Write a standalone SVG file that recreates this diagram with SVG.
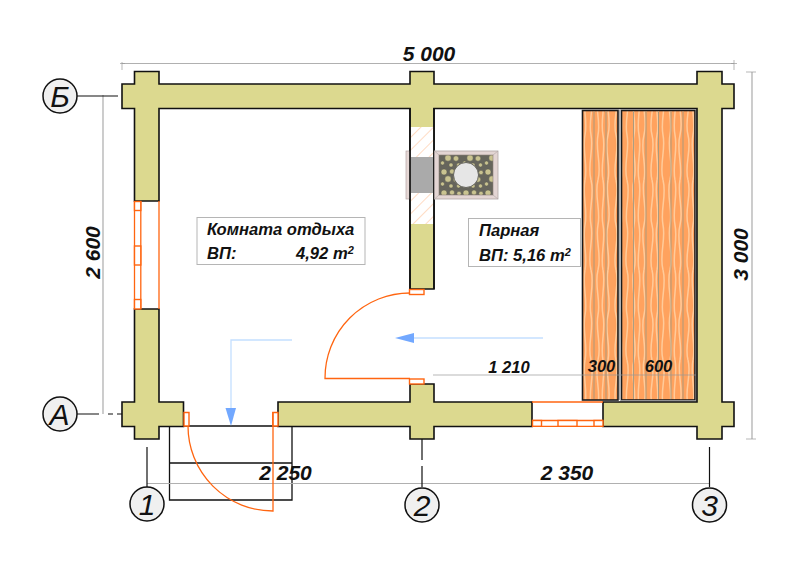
<svg xmlns="http://www.w3.org/2000/svg" width="800" height="566" viewBox="0 0 800 566">
<style>
.wall{fill:#dcd98f;stroke:#111;stroke-width:1.6}
.op{fill:#fff;stroke:#ff6510;stroke-width:1.4}
.ol{fill:none;stroke:#ff6510;stroke-width:1.3}
.dim{fill:none;stroke:#b0b0b0;stroke-width:1}
.dimv{fill:none;stroke:#c0c0c0;stroke-width:1.6}
.tk{fill:none;stroke:#999;stroke-width:.7}
.ax{fill:none;stroke:#111;stroke-width:1.2}
.bub{fill:#f0f0f0;stroke:#111;stroke-width:1.5}
.t{font-family:"Liberation Sans",Arial,sans-serif;font-weight:700;font-style:italic;fill:#111}
.d{font-size:21px}
.s{font-size:16.600px}
.ab{font-family:"Liberation Sans",Arial,sans-serif;font-style:italic;font-size:30px;fill:#111;text-anchor:middle}
.lb{fill:#fff;stroke:#b5b5b5;stroke-width:1}
.blue{fill:none;stroke:#c4dfff;stroke-width:1.3}
.ah{fill:#72a8ff}
.bench{fill:url(#wood);stroke:#1a1a1a;stroke-width:1.6}
.plank{stroke:#a09880;stroke-width:.9;fill:none}
</style>
<defs>
<pattern id="wood" width="36" height="90" patternUnits="userSpaceOnUse">
<rect width="36" height="90" fill="#ffa25e"/>
<path d="M4 0c4 15-4 30 0 45s-4 30 0 45M9 0c-3 15 3 30 0 45s3 30 0 45M15 0c4 15-3 30 0 45s-4 30 0 45M22 0c-4 15 3 30 0 45s4 30 0 45M27 0c3 15-3 30 0 45s-3 30 0 45M32 0c-3 15 4 30 0 45s3 30 0 45" fill="none" stroke="#ffcb9a" stroke-width="1.500"/>
</pattern>
<pattern id="stone" width="22" height="21" patternUnits="userSpaceOnUse">
<rect width="22" height="21" fill="#66655c"/>
<g fill="#c9c390" stroke="#4d4c44" stroke-width=".4"><circle cx="4" cy="4" r="3"/><circle cx="12" cy="3.500" r="2.500"/><circle cx="19" cy="4.500" r="2.200"/><circle cx="8" cy="11" r="3.200"/><circle cx="16" cy="11.500" r="2.700"/><circle cx="2.500" cy="16" r="2"/><circle cx="11" cy="18" r="2.100"/><circle cx="18.500" cy="18" r="2"/></g>
</pattern>
<pattern id="hatch" width="9" height="9" patternUnits="userSpaceOnUse" patternTransform="rotate(45)">
<rect width="9" height="9" fill="#fff"/><line x1="0" y1="0" x2="0" y2="9" stroke="#ffdcc4" stroke-width="2"/>
</pattern>
</defs>

<g id="steps">
<path d="M169.500 426H292V500H169.500ZM169.500 463H292" fill="#fff" stroke="#111" stroke-width="1.300"/>
</g>

<g id="benches">
<rect class="bench" x="582.500" y="110.500" width="35.500" height="289.500"/>
<rect class="bench" x="621.500" y="110.500" width="73.500" height="289.500"/>
<path class="plank" d="M594 111V399M606 111V399M633.500 111V399M646 111V399M658.500 111V399M671 111V399M683 111V399"/>
<path d="M619.800 110V400M696.500 110V401M620 401H696" fill="none" stroke="#aaa" stroke-width="1.500"/>
</g>

<g id="connectors">
<path class="dim" d="M122 63.500H734"/>
<path class="tk" d="M122 62V70M120 63.500H125M734 60V70M731 63.500H737"/>
<path class="dimv" d="M103 95V414"/>
<path class="dimv" d="M752 72V439"/>
<path class="tk" d="M746 72H756M746 439H756"/>
<path class="dim" d="M147 483.500H710"/>
<path class="tk" d="M433 375H697"/>
<path class="ax" d="M77 96H118"/>
<path class="ax" d="M77 414H99M108 414H113M117 414H122"/>
<path class="ax" d="M147 447V487"/>
<path class="ax" d="M422 439V460M422 466V487"/>
<path class="ax" d="M709.500 447V487"/>
<path class="blue" d="M292 340H231V410"/>
<path class="ah" d="M225.500 408H236L231 426Z"/>
<path class="blue" d="M543 338H414"/>
<path class="ah" d="M395 338L414 333V343Z"/>
</g>

<g id="walls">
<path class="wall" d="M134.500 71.500H159V84H410V71.500H434V84H697V71.500H722V84H734V108.500H722V402H734V426.500H722V439H697V426.500H603V402H697V108.500H434V289H410V108.500H159V201H134.500V108.500H122V84H134.500Z"/>
<path class="wall" d="M134.500 309H159V402H183.500V426.500H159V439H134.500V426.500H122V402H134.500Z"/>
<path class="wall" d="M278 402H410V384H434V402H532V426.500H434V439H410V426.500H278Z"/>
</g>

<g id="stove">
<rect x="406" y="151" width="4" height="48" fill="#e6d8d6" stroke="#b5a5a5" stroke-width=".7"/>
<rect x="410.800" y="127" width="22.400" height="97" fill="url(#hatch)"/>
<rect x="410.800" y="157" width="22.400" height="36" fill="#aaa"/>
<path d="M434 108V289M410 108V289" stroke="#111" stroke-width="1.600" fill="none"/>
<rect x="434.500" y="151" width="63.500" height="48" fill="#e3d5d3" stroke="#b0a6a6" stroke-width=".8"/>
<path d="M434.500 151L439 155M498 151L493 155M498 199L493 195M434.500 199L439 195" stroke="#b0a6a6" stroke-width=".6" fill="none"/>
<rect x="439" y="155" width="54" height="40" fill="url(#stone)" stroke="#8c8078" stroke-width=".6"/>
<circle cx="466" cy="175" r="12.500" fill="#e6e6e6" stroke="#66655c" stroke-width="1"/>
</g>

<g id="window-left">
<path class="ol" d="M159 201V309"/>
<path class="ol" d="M134.500 201V309M140.800 201V309"/>
<rect class="op" x="134.500" y="201.500" width="6.300" height="9"/>
<rect class="op" x="134.500" y="246" width="6.300" height="19"/>
<rect class="op" x="134.500" y="299.500" width="6.300" height="9.500"/>
</g>
<g id="window-bottom">
<path class="ol" d="M532 402H603"/>
<path class="ol" d="M532 420.500H603M532 426.300H603"/>
<rect class="op" x="532.500" y="420.500" width="9" height="5.800"/>
<rect class="op" x="558" y="420.500" width="19" height="5.800"/>
<rect class="op" x="594" y="420.500" width="9" height="5.800"/>
</g>
<g id="door-entry">
<path class="op" d="M184 412.500H189V426H184Z"/>
<path class="op" d="M272.800 412.500H278V426H272.800Z"/>
<path class="ol" d="M188 426A85 85 0 0 0 273 511V412"/>
</g>
<g id="door-inner">
<rect class="op" x="409.500" y="289.500" width="14.500" height="5"/>
<rect class="op" x="409.500" y="379" width="14.500" height="5"/>
<path class="ol" d="M410 293A85 85 0 0 0 325 378.500H410"/>
</g>

<g id="room-1">
<rect class="lb" x="197" y="217.500" width="168" height="47"/>
<text class="t s" x="207" y="235">Комната отдыха</text>
<text class="t s" x="207" y="259">ВП:</text>
<text class="t s" x="296" y="259">4,92 m<tspan font-size="11" dy="-5">2</tspan></text>
</g>
<g id="room-2">
<rect class="lb" x="468.500" y="218.500" width="112" height="48"/>
<text class="t s" x="479" y="236">Парная</text>
<text class="t s" x="479" y="261">ВП: 5,16 m<tspan font-size="11" dy="-5">2</tspan></text>
</g>

<g id="dims">
<text class="t d" x="429" y="60.500" text-anchor="middle">5 000</text>
<text class="t d" transform="translate(99.500 252.500) rotate(-90)" text-anchor="middle">2 600</text>
<text class="t d" transform="translate(748 254.500) rotate(-90)" text-anchor="middle">3 000</text>
<text class="t d" x="285.500" y="480" text-anchor="middle">2 250</text>
<text class="t d" x="567" y="480" text-anchor="middle">2 350</text>
<text class="t s" x="509" y="373" text-anchor="middle">1 210</text>
<text class="t s" x="601.500" y="372" text-anchor="middle">300</text>
<text class="t s" x="658.500" y="372" text-anchor="middle">600</text>
</g>

<g id="axis-B"><circle class="bub" cx="60" cy="96" r="17"/><text class="ab" x="60" y="107">Б</text></g>
<g id="axis-A"><circle class="bub" cx="60" cy="414" r="17"/><text class="ab" x="59.500" y="425">А</text></g>
<g id="axis-1"><circle class="bub" cx="147" cy="504" r="17"/><text class="ab" x="147" y="515">1</text></g>
<g id="axis-2"><circle class="bub" cx="422" cy="505" r="17"/><text class="ab" x="422" y="516">2</text></g>
<g id="axis-3"><circle class="bub" cx="709.500" cy="505" r="17"/><text class="ab" x="709.500" y="516">3</text></g>
</svg>
